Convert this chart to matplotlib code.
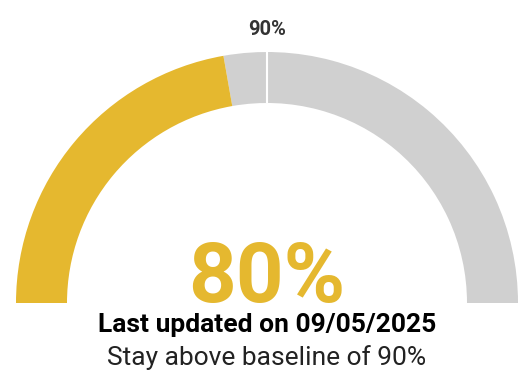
import matplotlib
matplotlib.use('Agg')
import matplotlib.pyplot as plt
from matplotlib.patches import Wedge
import numpy as np

plt.rcParams['font.family'] = ['Roboto', 'DejaVu Sans']

# gauge data
value = 80
baseline = 90
gauge_max = 180
value_label = "80%"
baseline_label = "90%"
updated_text = "Last updated on 09/05/2025"
note_text = "Stay above baseline of 90%"

gold = '#E5B82F'
grey = '#D0D0D0'

W, H = 520, 373
fig = plt.figure(figsize=(W / 100, H / 100), dpi=100)
ax = fig.add_axes([0, 0, 1, 1])
ax.set_xlim(0, W)
ax.set_ylim(0, H)
ax.axis('off')

cx, cy = 267, H - 303
r_out, ring = 251, 51

def ang(v):
    return 180 - v / gauge_max * 180

ax.add_patch(Wedge((cx, cy), r_out, 0, ang(value), width=ring, color=grey, lw=0))
ax.add_patch(Wedge((cx, cy), r_out, ang(value), 180, width=ring, color=gold, lw=0))

# baseline marker
a = np.radians(ang(baseline))
ax.plot([cx + (r_out - ring) * np.cos(a), cx + r_out * np.cos(a)],
        [cy + (r_out - ring) * np.sin(a), cy + r_out * np.sin(a)],
        color='white', lw=1.5, solid_capstyle='butt')
ax.text(cx + (r_out + 24) * np.cos(a), H - 35, baseline_label,
        ha='center', va='baseline', fontsize=14.5, fontweight='bold', color='#333333')

ax.text(cx, H - 302, value_label, ha='center', va='baseline',
        fontsize=60, fontweight='bold', color=gold)
ax.text(cx, H - 332, updated_text, ha='center', va='baseline',
        fontsize=19, fontweight='bold', color='black')
ax.text(cx, H - 365, note_text, ha='center', va='baseline',
        fontsize=19, color='#222222')

fig.savefig('out.png', dpi=100)
